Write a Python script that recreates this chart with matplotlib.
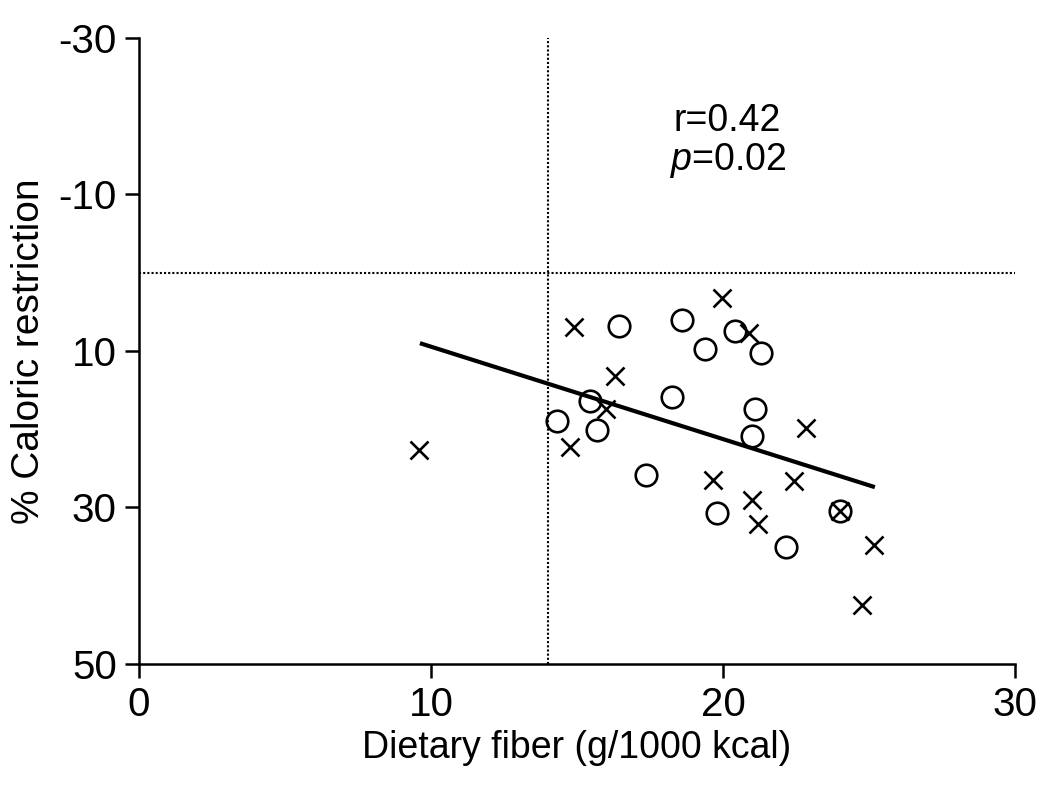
import numpy as np
import matplotlib.pyplot as plt

plt.rcParams['font.family'] = ['Liberation Sans', 'DejaVu Sans']
plt.rcParams['axes.unicode_minus'] = False
plt.rcParams['mathtext.fontset'] = 'custom'
plt.rcParams['mathtext.it'] = 'Liberation Sans:italic'
plt.rcParams['mathtext.rm'] = 'Liberation Sans'

# open circles
circ_x = [16.44, 18.6, 19.38, 20.4, 21.3, 15.45, 14.3, 15.68, 18.25, 21.1, 21.0, 17.36, 19.8, 24.0, 22.16]
circ_y = [6.8, 6.0, 9.7, 7.4, 10.3, 16.4, 18.9, 20.1, 15.9, 17.4, 20.9, 25.8, 30.7, 30.4, 35.0]

# crosses
cross_x = [9.59, 14.9, 14.76, 16.3, 16.0, 19.97, 20.9, 19.66, 22.84, 22.43, 21.0, 21.2, 24.0, 25.17, 24.76]
cross_y = [22.65, 6.9, 22.3, 13.2, 17.4, 3.2, 7.7, 26.5, 19.8, 26.6, 29.0, 32.1, 30.4, 34.8, 42.5]

# regression line ends
fit_x = [9.62, 25.2]
fit_y = [9.0, 27.4]

cut_x = 14.0
cut_y = 0.0

fig = plt.figure(figsize=(10.5, 7.9), dpi=100)
ax = fig.add_axes([0.1324, 0.1595, 0.8343, 0.7924])

ax.axvline(cut_x, color='k', ls=(0, (1, 1.0)), lw=1.5)
ax.axhline(cut_y, color='k', ls=(0, (1, 1.0)), lw=1.5)
ax.plot(fit_x, fit_y, 'k-', lw=3.0, solid_capstyle='butt')
ax.plot(circ_x, circ_y, 'o', mfc='none', mec='k', mew=1.9, ms=15.5, ls='none')
ax.plot(cross_x, cross_y, 'x', mec='k', mew=1.9, ms=13.5, ls='none')

ax.set_xlim(0, 30)
ax.set_ylim(50, -30)
ax.set_xticks([0, 10, 20, 30])
ax.set_yticks([-30, -10, 10, 30, 50])
ax.spines['top'].set_visible(False)
ax.spines['right'].set_visible(False)
ax.spines['left'].set_linewidth(1.8)
ax.spines['bottom'].set_linewidth(1.8)
ax.tick_params(direction='out', length=10, width=1.8, labelsize=29, pad=6)

ax.set_xlabel('Dietary fiber (g/1000 kcal)', fontsize=27, labelpad=4)
ax.set_ylabel('% Caloric restriction', fontsize=28, labelpad=8)

ax.text(18.29, -18.1, 'r=0.42', fontsize=27, va='baseline')
ax.text(18.2, -13.1, '$\\it{p}$=0.02', fontsize=27, va='baseline')

fig.savefig('out.png', dpi=100)
